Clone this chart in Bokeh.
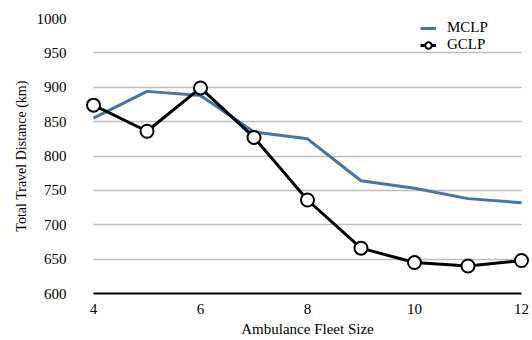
from bokeh.plotting import figure
from bokeh.models import Range1d, Legend, LegendItem, FixedTicker, Grid
from bokeh.embed import file_html
from bokeh.resources import INLINE

fleet = [4, 5, 6, 7, 8, 9, 10, 11, 12]
mclp = [855, 894, 888, 835, 825, 764, 753, 738, 732]
gclp = [874, 836, 899, 827, 736, 666, 645, 640, 648]
x_ticks = [4, 6, 8, 10, 12]
y_ticks = [600, 650, 700, 750, 800, 850, 900, 950, 1000]

FONT = "Liberation Serif"

p = figure(frame_width=444, frame_height=275,
           output_backend="svg", toolbar_location=None,
           x_range=Range1d(3.85, 12.15), y_range=Range1d(600, 1000),
           min_border_left=85, min_border_right=2, min_border_top=18, min_border_bottom=20)
p.outline_line_color = None
p.background_fill_color = "white"

l_m = p.line(fleet, mclp, line_color="#4574A8", line_width=3)
l_g = p.line(fleet, gclp, line_color="black", line_width=3)
c_g = p.scatter(fleet, gclp, size=13, marker="circle", fill_color="white",
                line_color="black", line_width=2)

p.xaxis.ticker = FixedTicker(ticks=x_ticks)
p.yaxis.ticker = FixedTicker(ticks=y_ticks)
p.xaxis.bounds = (4, 12)
p.xgrid.visible = False
p.ygrid.grid_line_color = "#bdbdbd"
p.ygrid.grid_line_width = 1.5
if "cross_bounds" in Grid.properties():
    p.ygrid.cross_bounds = (4, 12)

for ax in (p.xaxis[0], p.yaxis[0]):
    ax.major_tick_line_color = None
    ax.minor_tick_line_color = None
    ax.major_label_text_font = FONT
    ax.major_label_text_font_size = "15px"
    ax.major_label_text_color = "black"
    ax.axis_label_text_font = FONT
    ax.axis_label_text_font_style = "normal"
    ax.axis_label_text_color = "black"

p.yaxis.axis_line_color = None
p.yaxis.major_label_standoff = 13
p.yaxis.axis_label = "Total Travel Distance (km)"
p.yaxis.axis_label_text_font_size = "14px"
p.yaxis.axis_label_standoff = 5

p.xaxis.axis_line_color = "black"
p.xaxis.axis_line_width = 2
p.xaxis.major_label_standoff = 4
p.xaxis.axis_label = "Ambulance Fleet Size"
p.xaxis.axis_label_text_font_size = "15px"
p.xaxis.axis_label_standoff = 4

legend = Legend(items=[LegendItem(label="MCLP", renderers=[l_m]),
                       LegendItem(label="GCLP", renderers=[l_g, c_g])],
                location=(335, 240))
legend.background_fill_alpha = 0
legend.border_line_color = None
legend.padding = 0
legend.spacing = -4
legend.margin = 0
legend.label_height = 16
legend.glyph_height = 16
legend.glyph_width = 16
legend.label_standoff = 11
legend.label_text_font = FONT
legend.label_text_font_size = "15px"
legend.label_text_color = "black"
p.add_layout(legend)

open("out.html", "w").write(file_html(p, INLINE))
